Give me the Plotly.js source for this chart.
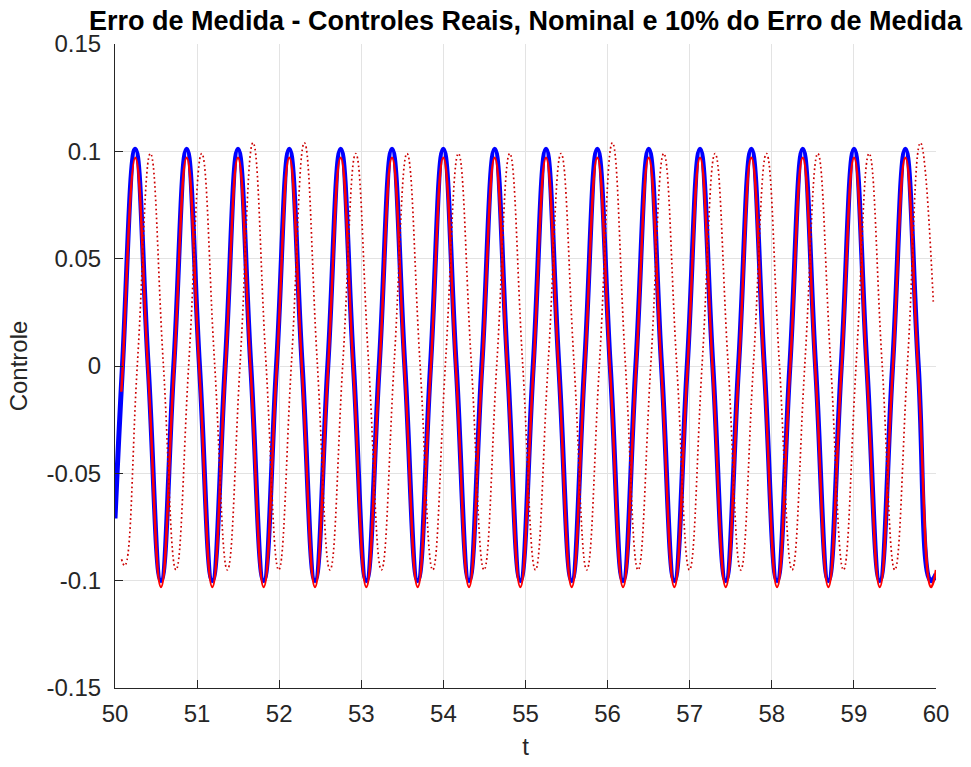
<!DOCTYPE html>
<html>
<head>
<meta charset="utf-8">
<script src="https://cdn.plot.ly/plotly-3.0.1.min.js"></script>
<style>
  html, body { margin: 0; padding: 0; background: #ffffff; }
  #chart { width: 971px; height: 767px; }
</style>
</head>
<body>
<div id="chart"></div>
<script>
// ---- Data ----
// Time instants (quarter-period points: zero crossings, peaks, troughs) of the solid curves
const tSolid = [
  50.091, 50.247, 50.404, 50.560,
  50.716, 50.873, 51.029, 51.185,
  51.342, 51.498, 51.654, 51.811,
  51.967, 52.123, 52.280, 52.436,
  52.592, 52.749, 52.905, 53.061,
  53.218, 53.374, 53.530, 53.687,
  53.843, 53.999, 54.156, 54.312,
  54.468, 54.625, 54.781, 54.937,
  55.094, 55.250, 55.406, 55.563,
  55.719, 55.875, 56.032, 56.188,
  56.344, 56.501, 56.657, 56.813,
  56.970, 57.126, 57.282, 57.439,
  57.595, 57.751, 57.908, 58.064,
  58.220, 58.377, 58.533, 58.689,
  58.846, 59.002, 59.158, 59.315,
  59.471, 59.627, 59.784, 59.940
];

// Blue: controle real
const blueStartT = 50.000, blueStartV = -0.071;
const blueEndT = 60.000, blueEndV = -0.097;
const blueVals = [
  0, 0.101, 0, -0.100,
  0, 0.101, 0, -0.100,
  0, 0.101, 0, -0.100,
  0, 0.101, 0, -0.100,
  0, 0.101, 0, -0.100,
  0, 0.101, 0, -0.100,
  0, 0.101, 0, -0.100,
  0, 0.101, 0, -0.100,
  0, 0.101, 0, -0.100,
  0, 0.101, 0, -0.100,
  0, 0.101, 0, -0.100,
  0, 0.101, 0, -0.100,
  0, 0.101, 0, -0.100,
  0, 0.101, 0, -0.100,
  0, 0.101, 0, -0.100,
  0, 0.101, 0, -0.100
];

// Red solid: controle nominal
const redStartT = 50.077, redStartV = -0.012;
const redEndT = 60.000, redEndV = -0.095;
const redVals = [
  -0.003, 0.097, -0.003, -0.103,
  -0.003, 0.097, -0.003, -0.103,
  -0.003, 0.097, -0.003, -0.103,
  -0.003, 0.097, -0.003, -0.103,
  -0.003, 0.097, -0.003, -0.103,
  -0.003, 0.097, -0.003, -0.103,
  -0.003, 0.097, -0.003, -0.103,
  -0.003, 0.097, -0.003, -0.103,
  -0.003, 0.097, -0.003, -0.103,
  -0.003, 0.097, -0.003, -0.103,
  -0.003, 0.097, -0.003, -0.103,
  -0.003, 0.097, -0.003, -0.103,
  -0.003, 0.097, -0.003, -0.103,
  -0.003, 0.097, -0.003, -0.103,
  -0.003, 0.097, -0.003, -0.103,
  -0.003, 0.097, -0.003, -0.103
];

// Red dotted: 10% do erro de medida
const tDotted = [
  50.080,
  50.118, 50.274, 50.431, 50.587,
  50.743, 50.900, 51.056, 51.212,
  51.369, 51.525, 51.681, 51.838,
  51.994, 52.150, 52.307, 52.463,
  52.619, 52.776, 52.932, 53.088,
  53.245, 53.401, 53.557, 53.714,
  53.870, 54.026, 54.183, 54.339,
  54.495, 54.652, 54.808, 54.964,
  55.121, 55.277, 55.433, 55.590,
  55.746, 55.902, 56.059, 56.215,
  56.371, 56.528, 56.684, 56.840,
  56.997, 57.153, 57.309, 57.466,
  57.622, 57.778, 57.935, 58.091,
  58.247, 58.404, 58.560, 58.716,
  58.873, 59.029, 59.185, 59.342,
  59.498, 59.654, 59.811, 59.967
];
const dottedVals = [
  -0.090,
  -0.093, 0.002, 0.099, 0.002,
  -0.095, 0.002, 0.099, 0.002,
  -0.095, 0.002, 0.104, 0.002,
  -0.095, 0.002, 0.104, 0.002,
  -0.095, 0.002, 0.099, 0.002,
  -0.095, 0.002, 0.099, 0.002,
  -0.095, 0.002, 0.099, 0.002,
  -0.095, 0.002, 0.099, 0.002,
  -0.095, 0.002, 0.099, 0.002,
  -0.095, 0.002, 0.104, 0.002,
  -0.095, 0.002, 0.099, 0.002,
  -0.095, 0.002, 0.099, 0.002,
  -0.095, 0.002, 0.099, 0.002,
  -0.095, 0.002, 0.099, 0.002,
  -0.095, 0.002, 0.099, 0.002,
  -0.095, 0.002, 0.104, 0.030
];

const xTickVals = [50, 51, 52, 53, 54, 55, 56, 57, 58, 59, 60];
const xTickText = ['50', '51', '52', '53', '54', '55', '56', '57', '58', '59', '60'];
const yTickVals = [-0.15, -0.1, -0.05, 0, 0.05, 0.1, 0.15];
const yTickText = ['-0.15', '-0.1', '-0.05', '0', '0.05', '0.1', '0.15'];

const titleText = 'Erro de Medida - Controles Reais, Nominal e 10% do Erro de Medida';
const xTitle = 't';
const yTitle = 'Controle';

// ---- Build traces ----
const blueT = [blueStartT].concat(tSolid, [blueEndT]);
const blueV = [blueStartV].concat(blueVals, [blueEndV]);
const redT = [redStartT].concat(tSolid, [redEndT]);
const redV = [redStartV].concat(redVals, [redEndV]);

const traces = [
  {
    x: blueT, y: blueV, type: 'scatter', mode: 'lines',
    line: { color: '#0000ff', width: 5, shape: 'spline', smoothing: 1.3 },
    hoverinfo: 'skip'
  },
  {
    x: redT, y: redV, type: 'scatter', mode: 'lines',
    line: { color: '#ff0000', width: 2.5, shape: 'spline', smoothing: 1.3 },
    hoverinfo: 'skip'
  },
  {
    x: tDotted, y: dottedVals, type: 'scatter', mode: 'lines',
    line: { color: '#cc0000', width: 1.7, dash: '1.7px,2.8px', shape: 'spline', smoothing: 1.3 },
    hoverinfo: 'skip'
  }
];

const font = 'Liberation Sans, Arial, Helvetica, sans-serif';
const axisColor = '#262626';
const gridColor = '#e3e3e3';

const layout = {
  width: 971, height: 767,
  margin: { l: 115, r: 35, t: 44, b: 79, pad: 0 },
  paper_bgcolor: '#ffffff', plot_bgcolor: '#ffffff',
  showlegend: false,
  font: { family: font, color: axisColor },
  title: {
    text: titleText,
    font: { family: font, size: 27, color: '#000000', weight: 'bold' },
    x: 0.5, xref: 'paper', xanchor: 'center',
    y: 1 - 21 / 767, yref: 'container', yanchor: 'middle'
  },
  xaxis: {
    range: [50, 60], tickmode: 'array', tickvals: xTickVals, ticktext: xTickText,
    ticks: 'inside', ticklen: 8, tickwidth: 1, tickcolor: axisColor,
    showline: true, linecolor: axisColor, linewidth: 1, mirror: false,
    showgrid: true, gridcolor: gridColor, gridwidth: 1, zeroline: false,
    tickfont: { family: font, size: 24, color: axisColor },
    ticklabelstandoff: 4,
    title: { text: xTitle, font: { family: font, size: 24, color: axisColor }, standoff: 12 },
    automargin: false, fixedrange: true
  },
  yaxis: {
    range: [-0.15, 0.15], tickmode: 'array', tickvals: yTickVals, ticktext: yTickText,
    ticks: 'inside', ticklen: 8, tickwidth: 1, tickcolor: axisColor,
    showline: true, linecolor: axisColor, linewidth: 1, mirror: false,
    showgrid: true, gridcolor: gridColor, gridwidth: 1, zeroline: false,
    tickfont: { family: font, size: 24, color: axisColor },
    ticklabelstandoff: 8,
    title: { text: yTitle, font: { family: font, size: 24, color: axisColor }, standoff: 12 },
    automargin: false, fixedrange: true
  }
};

Plotly.newPlot('chart', traces, layout, { displayModeBar: false, staticPlot: true });
</script>
</body>
</html>
